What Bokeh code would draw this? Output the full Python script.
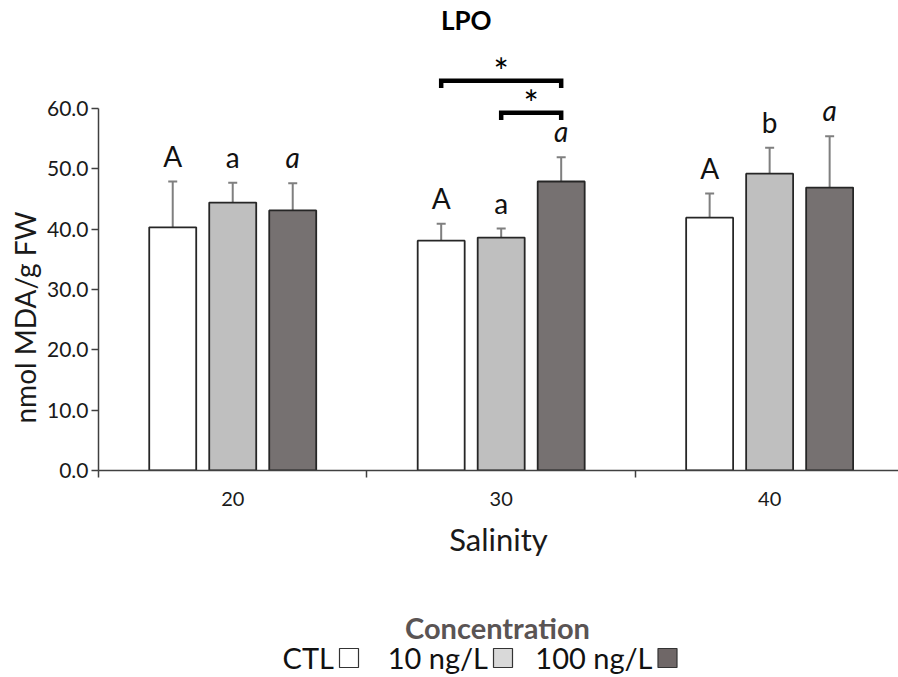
from bokeh.plotting import figure
from bokeh.models import (ColumnDataSource, FixedTicker, PrintfTickFormatter,
                          Range1d, Whisker, TeeHead, Title)
from bokeh.layouts import column
from bokeh.core.properties import value
from bokeh.embed import file_html
from bokeh.resources import INLINE

# ---------------- data ----------------
salinity = ["20", "30", "40"]
concentrations = ["CTL", "10 ng/L", "100 ng/L"]
lpo_ctl = [40.3, 38.1, 41.9]
lpo_10 = [44.4, 38.6, 49.2]
lpo_100 = [43.1, 47.9, 46.9]
sd_ctl = [7.6, 2.8, 4.0]
sd_10 = [3.3, 1.5, 4.3]
sd_100 = [4.5, 4.0, 8.5]
letters_ctl = ["A", "A", "A"]
letters_10 = ["a", "a", "b"]
letters_100 = ["a", "a", "a"]
# significance brackets: (salinity index, conc index a, conc index b, level)
brackets = [(1, 0, 2, 64.6), (1, 1, 2, 59.3)]
bracket_labels = ["*", "*"]
y_ticks = [0, 10, 20, 30, 40, 50, 60]

# ---------------- style ----------------
FONT = "Lato"
bar_fill = ["#ffffff", "#bfbfbf", "#767171"]
legend_fill = ["#ffffff", "#d9d9d9", "#6f6767"]
offsets = [-0.2235, 0.0, 0.2235]
bar_w = 0.175

values = [lpo_ctl, lpo_10, lpo_100]
sds = [sd_ctl, sd_10, sd_100]
letters = [letters_ctl, letters_10, letters_100]
styles = ["normal", "normal", "italic"]

p = figure(width=898, height=600, output_backend="svg", toolbar_location=None,
           x_range=Range1d(0, 2.98), y_range=Range1d(0, 77.9),
           min_border_left=98, min_border_right=0, min_border_top=0,
           min_border_bottom=130)
p.outline_line_color = None
p.xgrid.visible = False
p.ygrid.visible = False
p.background_fill_color = "white"
p.border_fill_color = "white"

for k in range(3):
    xs = [i + 0.5 + offsets[k] for i in range(3)]
    tops = [v + s for v, s in zip(values[k], sds[k])]
    src = ColumnDataSource(dict(x=xs, top=values[k], upper=tops,
                                ly=[t + 4.3 for t in tops], lab=letters[k]))
    p.vbar(x="x", top="top", bottom=0, width=bar_w, source=src,
           fill_color=bar_fill[k], line_color="#262626", line_width=1.8)
    w = Whisker(base="x", lower="top", upper="upper", source=src,
                line_color="#7f7f7f", line_width=2, lower_head=None,
                upper_head=TeeHead(size=9, line_color="#7f7f7f", line_width=2))
    p.add_layout(w)
    p.text(x="x", y="ly", text="lab", source=src, text_align="center",
           text_baseline="alphabetic", text_font=value(FONT),
           text_font_size="28px", text_font_style=styles[k], text_color="#111111")

# significance brackets
bx, by = [], []
sx, sy = [], []
for (g, a, b, lev) in brackets:
    x0 = g + 0.5 + offsets[a]
    x1 = g + 0.5 + offsets[b]
    bx.append([x0, x0, x1, x1])
    by.append([lev - 1.2, lev, lev, lev - 1.2])
    sx.append((x0 + x1) / 2)
    sy.append(lev + 1.6)
p.multi_line(xs=bx, ys=by, line_color="black", line_width=4.5, line_join="miter")
p.text(x=sx, y=sy, text=bracket_labels, text_align="center", text_baseline="alphabetic",
       text_font=value(FONT), text_font_size="36px", text_color="black")

# title
p.text(x=[1.37], y=[74.6], text=["LPO"], text_align="center", text_baseline="middle",
       text_font=value(FONT), text_font_size="26px", text_font_style="bold",
       text_color="black")

# axes
ax = p.xaxis[0]
ax.ticker = FixedTicker(ticks=[0.5, 1.5, 2.5], minor_ticks=[0, 1, 2])
ax.major_label_overrides = {0.5: salinity[0], 1.5: salinity[1], 2.5: salinity[2]}
ax.major_tick_out = 0
ax.major_tick_in = 0
ax.minor_tick_out = 7
ax.minor_tick_in = 0
ax.minor_tick_line_color = "#404040"
ax.minor_tick_line_width = 1.5
ax.axis_line_color = "#404040"
ax.axis_line_width = 1.5
ax.major_label_standoff = 14
ax.major_label_text_font = FONT
ax.major_label_text_font_size = "20px"
ax.major_label_text_color = "#1a1a1a"
ax.axis_label = "Salinity"
ax.axis_label_text_font = FONT
ax.axis_label_text_font_size = "31px"
ax.axis_label_text_font_style = "normal"
ax.axis_label_text_color = "#1a1a1a"
ax.axis_label_standoff = 11

ay = p.yaxis[0]
ay.ticker = FixedTicker(ticks=y_ticks, minor_ticks=[])
ay.formatter = PrintfTickFormatter(format="%.1f")
ay.bounds = (0, 60)
ay.major_tick_out = 7
ay.major_tick_in = 0
ay.major_tick_line_color = "#404040"
ay.major_tick_line_width = 1.5
ay.axis_line_color = "#404040"
ay.axis_line_width = 1.5
ay.major_label_standoff = 3
ay.major_label_text_font = FONT
ay.major_label_text_font_size = "21px"
ay.major_label_text_color = "#1a1a1a"

ylab = Title(text="nmol MDA/g FW", align="left", offset=47, standoff=6,
             text_font=FONT, text_font_size="28px", text_font_style="normal",
             text_color="#1a1a1a")
p.add_layout(ylab, "left")

# legend strip (its frame is aligned with the main frame: x from 98 to 898 px)
lg = figure(width=898, height=77, output_backend="svg", toolbar_location=None,
            x_range=Range1d(98, 898), y_range=Range1d(77, 0),
            min_border_left=98, min_border_right=0, min_border_top=0,
            min_border_bottom=0)
lg.axis.visible = False
lg.grid.visible = False
lg.outline_line_color = None
lg.text(x=[497], y=[27], text=["Concentration"], text_align="center",
        text_baseline="middle", text_font=value(FONT), text_font_size="29px",
        text_font_style="bold", text_color="#5a5454")
sq_x = [348.5, 502.5, 667.0]
lg.rect(x=sq_x, y=[57.5] * 3, width=19, height=19, fill_color=legend_fill,
        line_color="#333333", line_width=1.2)
lg.text(x=[s - 15 for s in sq_x], y=[57] * 3, text=concentrations, text_align="right",
        text_baseline="middle", text_font=value(FONT), text_font_size="29px",
        text_color="#111111")

layout = column(p, lg, spacing=0)
open("out.html", "w").write(file_html(layout, INLINE))
